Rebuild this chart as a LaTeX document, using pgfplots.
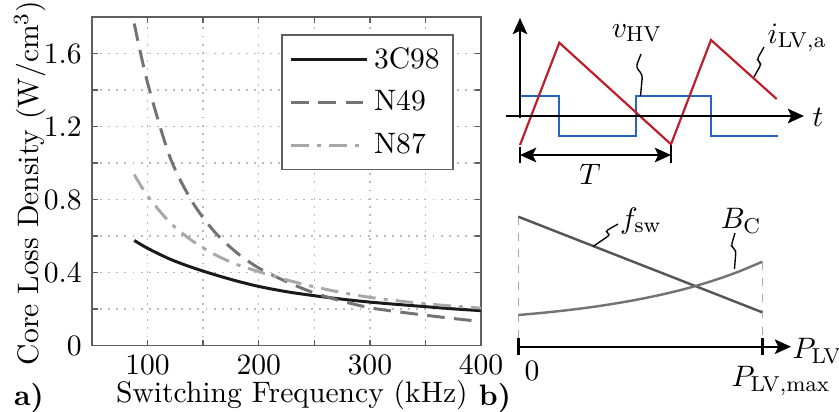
\documentclass[border=0pt]{standalone}
\usepackage{pgfplots}
\pgfplotsset{compat=1.18}
\usetikzlibrary{arrows.meta}

\definecolor{wred}{RGB}{190,28,40}
\definecolor{wblue}{RGB}{38,100,190}
\definecolor{gdark}{RGB}{85,85,85}
\definecolor{gmid}{RGB}{115,115,115}
\definecolor{glight}{RGB}{168,168,168}
\definecolor{frame}{RGB}{95,95,95}

\tikzset{
  tip/.tip={Stealth[length=6pt,width=5.4pt,inset=1.3pt]},
  arr/.style={-tip, line width=0.7pt},
  squig/.style={line width=0.5pt, rounded corners=1.2pt},
}

\begin{document}
\fontsize{10.95pt}{13.6pt}\selectfont
\begin{tikzpicture}
\useasboundingbox (0,0) rectangle (310.43pt,152.44pt);

% b) sketches, drawn on a hidden axis in picture pixels
\begin{axis}[
  at={(0pt,0pt)}, anchor=south west, scale only axis,
  width=310.43pt, height=152.44pt,
  xmin=0, xmax=839, ymin=0, ymax=412, y dir=reverse,
  hide axis, clip=false,
]
% waveforms
\addplot[wblue, line width=0.8pt] coordinates
  {(520,96)(559.3,96)(559.3,136)(635.7,136)(635.7,96)(711,96)(711,136)(778,136)};
\addplot[wred, line width=0.8pt] coordinates
  {(520,145)(559.3,42.7)(671,144.3)(711,40)(776.7,99)};
\draw[arr] (axis cs:520,118) -- (axis cs:520,18);
\draw[arr] (axis cs:506,116) -- (axis cs:804,116);
\node at (axis cs:818,117) {$t$};
\draw[tip-tip, line width=0.7pt] (axis cs:520,155) -- (axis cs:671,155);
\draw[line width=0.6pt] (axis cs:520,147) -- (axis cs:520,163);
\draw[line width=0.6pt] (axis cs:671,145) -- (axis cs:671,163);
\node at (axis cs:590,174) {$T$};
\node at (axis cs:637,33) {$v_{\mathrm{HV}}$};
\draw[squig] (axis cs:641,54) -- (axis cs:636,67) -- (axis cs:642.5,75) -- (axis cs:640.5,96);
\node at (axis cs:797,38) {$i_{\mathrm{LV,a}}$};
\draw[squig] (axis cs:764,47) -- (axis cs:756.7,60) -- (axis cs:761.5,63.5) -- (axis cs:754,77);

% f_sw and B_C over P_LV
\addplot[glight, dashed, line width=0.5pt] coordinates {(518.3,216.7)(518.3,346.7)};
\addplot[glight, dashed, line width=0.5pt] coordinates {(762.3,261.7)(762.3,346.7)};
\addplot[gdark, line width=0.9pt] coordinates {(518.3,216.7)(762.3,312.3)};
\addplot[gmid, line width=0.9pt, smooth] coordinates
  {(518.3,315)(542.7,312.8)(567.1,310.2)(591.5,307.1)(615.9,303.4)(640.3,299.0)
   (664.7,293.9)(689.1,287.8)(713.5,280.5)(737.9,271.9)(762.3,261.7)};
\draw[arr] (axis cs:518.3,346.7) -- (axis cs:791,346.7);
\draw[line width=1.1pt] (axis cs:518.3,338) -- (axis cs:518.3,355);
\draw[line width=1.1pt] (axis cs:762.3,338) -- (axis cs:762.3,355);
\node[anchor=west, inner sep=0pt] at (axis cs:792,351) {$P_{\mathrm{LV}}$};
\node at (axis cs:532,371) {$0$};
\node at (axis cs:781,381) {$P_{\mathrm{LV,max}}$};
\node at (axis cs:641,221) {$f_{\mathrm{sw}}$};
\draw[squig] (axis cs:618,224) -- (axis cs:605,231.5) -- (axis cs:610.5,234.5) -- (axis cs:593,246.5);
\node at (axis cs:741,221) {$B_{\mathrm{C}}$};
\draw[squig] (axis cs:735,233) -- (axis cs:731,246.5) -- (axis cs:736,250) -- (axis cs:734.5,269);

\node at (axis cs:29,398) {\textbf{a)}};
\node at (axis cs:495,398) {\textbf{b)}};
\end{axis}

% a) core loss density
\begin{axis}[
  at={(34.04pt,24.6pt)}, anchor=south west, scale only axis,
  width=143.93pt, height=121.5pt,
  xmin=50, xmax=400, ymin=0, ymax=1.8,
  xtick={100,200,300,400}, minor xtick={50,150,250,350},
  ytick={0,0.4,0.8,1.2,1.6}, minor ytick={0.2,0.6,1.0,1.4},
  xtick pos=both, ytick pos=both, tick align=inside,
  major tick length=2.2pt, minor tick length=2.2pt,
  axis line style={frame, line width=0.6pt},
  every tick/.style={frame, line width=0.5pt},
  every minor tick/.style={frame, line width=0.5pt},
  grid=both,
  major grid style={gray!55, line width=0.5pt, dash pattern=on 0.7pt off 2.3pt},
  minor grid style={gray!55, line width=0.5pt, dash pattern=on 0.7pt off 2.3pt},
  xlabel={Switching Frequency (kHz)},
  ylabel={Core Loss Density (W/cm$^3$)},
  xlabel style={at={(axis description cs:0.514,-0.152)}, anchor=center},
  ylabel style={at={(axis description cs:-0.159,0.495)}, anchor=center},
  legend style={at={(axis description cs:0.486,0.948)}, anchor=north west,
    draw=frame, line width=0.6pt, fill=white, inner xsep=3pt, inner ysep=2.5pt,
    row sep=2.6pt},
  legend cell align=left,
  legend image code/.code={\draw[#1] (0pt,0pt) -- (28pt,0pt);},
]
\addplot[black!90, line width=1.1pt, smooth] coordinates {
  (88,0.576)(100,0.533)(120,0.474)(140,0.428)(160,0.389)(180,0.354)(200,0.324)
  (225,0.295)(250,0.273)(275,0.254)(300,0.238)(325,0.225)(350,0.213)(375,0.201)(400,0.191)};
\addlegendentry{3C98}
\addplot[gmid, line width=1.1pt, smooth, dash pattern=on 6.5pt off 3.5pt] coordinates {
  (88,1.765)(100,1.44)(120,1.035)(140,0.79)(160,0.625)(180,0.51)(200,0.425)
  (225,0.35)(250,0.288)(275,0.243)(300,0.207)(325,0.185)(350,0.166)(375,0.148)(400,0.132)};
\addlegendentry{N49}
\addplot[glight, line width=1.1pt, smooth, dash pattern=on 6.5pt off 3pt on 1.5pt off 3pt] coordinates {
  (88,0.937)(100,0.82)(120,0.675)(140,0.575)(160,0.50)(180,0.445)(200,0.405)
  (225,0.36)(250,0.322)(275,0.29)(300,0.264)(325,0.245)(350,0.229)(375,0.216)(400,0.205)};
\addlegendentry{N87}
\end{axis}
\end{tikzpicture}
\end{document}
